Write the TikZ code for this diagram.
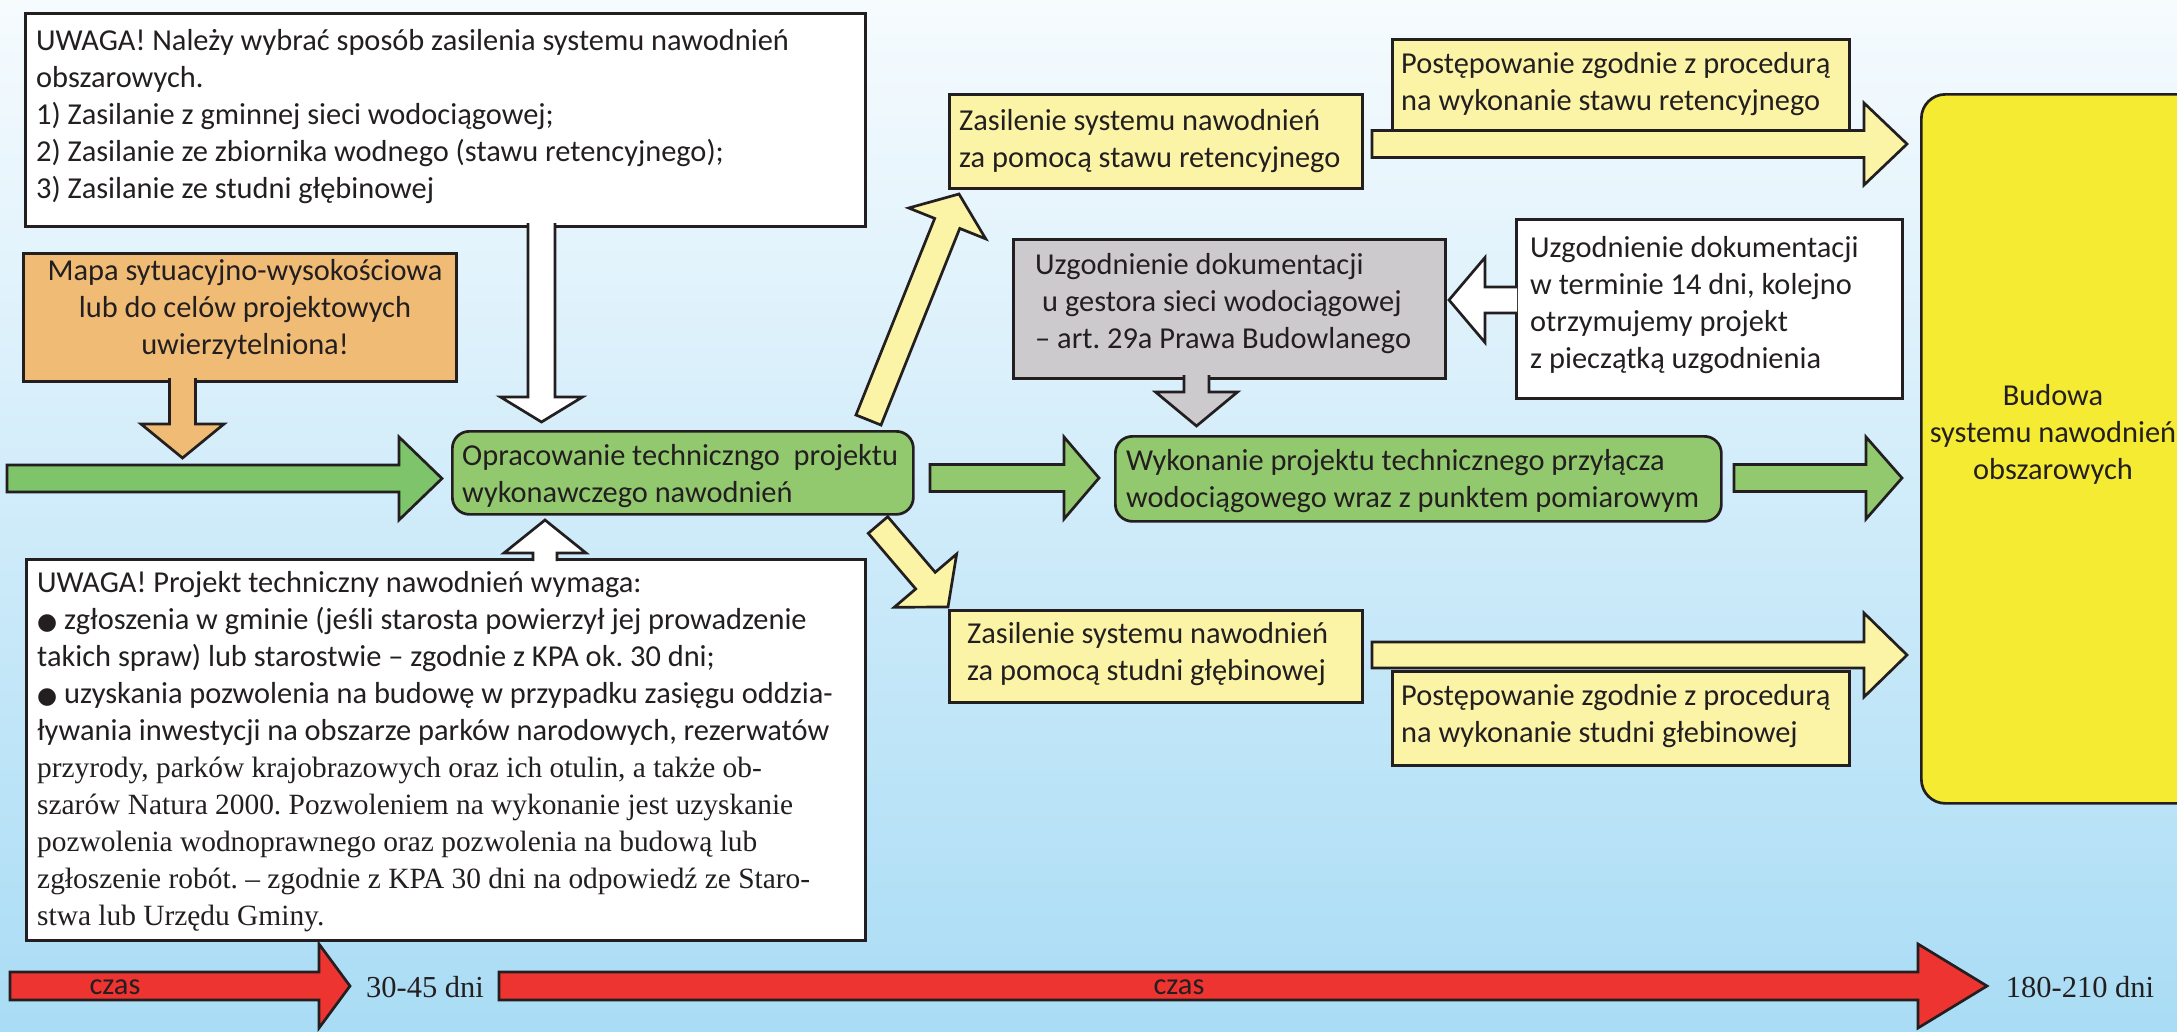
\documentclass[tikz,border=0pt]{standalone}
\usepackage{fontspec}
\setmainfont{Carlito}
\newfontfamily\seriff{Liberation Serif}
\newfontfamily\symf{DejaVu Sans}
\usetikzlibrary{calc}
\definecolor{ink}{HTML}{231F20}
\definecolor{bgtop}{HTML}{F6FBFE}
\definecolor{bgbot}{HTML}{A9DCF5}
\definecolor{orangef}{HTML}{F0BB74}
\definecolor{greenbox}{HTML}{93C96E}
\definecolor{greenarr}{HTML}{7EC46B}
\definecolor{paley}{HTML}{FBF4A6}
\definecolor{greyf}{HTML}{CDCACE}
\definecolor{bigy}{HTML}{F6EB33}
\definecolor{redf}{HTML}{EE3431}
\newcommand\fatpts[5]{%
  \coordinate (fa-c) at ($(#2)!#5!(#1)$);
  \coordinate (fa-1) at ($(#1)!#3!90:(#2)$);
  \coordinate (fa-2) at ($(fa-c)!#3!-90:(#1)$);
  \coordinate (fa-3) at ($(fa-c)!#4!-90:(#1)$);
  \coordinate (fa-4) at (#2);
  \coordinate (fa-5) at ($(fa-c)!#4!90:(#1)$);
  \coordinate (fa-6) at ($(fa-c)!#3!90:(#1)$);
  \coordinate (fa-7) at ($(#1)!#3!-90:(#2)$);
}
\newcommand\fatarrow[6]{%
  \fatpts{#2}{#3}{#4}{#5}{#6}
  \draw[edge, fill=#1] (fa-1)--(fa-2)--(fa-3)--(fa-4)--(fa-5)--(fa-6)--(fa-7)--cycle;
}
\newcommand\fatjoin[6]{%
  \fatpts{#2}{#3}{#4}{#5}{#6}
  \fill[#1] (fa-1)--(fa-2)--(fa-3)--(fa-4)--(fa-5)--(fa-6)--(fa-7)--cycle;
  \draw[edge] (fa-1)--(fa-2)--(fa-3)--(fa-4)--(fa-5)--(fa-6)--(fa-7);
}
\newcommand\serpar{\seriff\fontsize{29.4}{36.8}\selectfont}
\tikzset{
  edge/.style={draw=ink, line width=2.7pt, line join=miter},
  txt/.style={font=\frenchspacing\fontsize{30.4}{37}\selectfont, text=ink, inner sep=0pt},
  ltxt/.style={txt, anchor=west, align=left},
  sertxt/.style={font=\frenchspacing\seriff\fontsize{30.5}{37}\selectfont, text=ink, inner sep=0pt},
  box/.style={edge, anchor=north west, inner sep=0pt},
}
\newcommand\blt{{\symf\fontsize{23}{23}\selectfont ●}}
\begin{document}
\frenchspacing
\begin{tikzpicture}[x=1pt, y=-1pt]
\useasboundingbox (0,0) rectangle (2177,1031);
\clip (0,0) rectangle (2177,1031);
\shade[top color=bgtop, bottom color=bgbot] (0,0) rectangle (2177,1031);

% boxes
\node[box, fill=white, minimum width=840pt, minimum height=213pt] (top) at (24,12) {};
\node[box, fill=orangef, minimum width=433pt, minimum height=128pt] (map) at (22,252) {};
\node[box, fill=white, minimum width=839pt, minimum height=381pt] (bottom) at (25,558) {};
\node[box, fill=greenbox, rounded corners=17pt, minimum width=461pt, minimum height=83pt] (opr) at (451,430) {};
\node[box, fill=paley, minimum width=413pt, minimum height=94pt] (zas1) at (948,93) {};
\node[box, fill=paley, minimum width=457pt, minimum height=91pt] (post1) at (1391,38) {};
\node[box, fill=greyf, minimum width=432pt, minimum height=139pt] (uzg) at (1012,238) {};
\node[box, fill=white, minimum width=386pt, minimum height=179pt] (term) at (1515,218) {};
\node[box, fill=greenbox, rounded corners=17pt, minimum width=606pt, minimum height=85pt] (wyk) at (1114,435) {};
\node[box, fill=paley, minimum width=413pt, minimum height=92pt] (zas2) at (948,609) {};
\node[box, fill=paley, minimum width=457pt, minimum height=94pt] (post2) at (1391,670) {};
\node[box, fill=bigy, rounded corners=24pt, minimum width=290pt, minimum height=709pt] (bud) at (1920,93) {};

% texts
\node[ltxt] (top-t) at (36,117)
 {UWAGA! Należy wybrać sposób zasilenia systemu nawodnień\\
  obszarowych.\\
  1) Zasilanie z gminnej sieci wodociągowej;\\
  2) Zasilanie ze zbiornika wodnego (stawu retencyjnego);\\
  3) Zasilanie ze studni głębinowej};
\node[txt, align=center] (map-t) at (245,309)
 {Mapa sytuacyjno-wysokościowa\\ lub do celów projektowych\\ uwierzytelniona!};
\node[ltxt] (bottom-t) at (37,752)
 {UWAGA! Projekt techniczny nawodnień wymaga:\\
  \blt{} zgłoszenia w gminie (jeśli starosta powierzył jej prowadzenie\\
  takich spraw) lub starostwie – zgodnie z KPA ok. 30 dni;\\
  \blt{} uzyskania pozwolenia na budowę w przypadku zasięgu oddzia-\\
  ływania inwestycji na obszarze parków narodowych, rezerwatów\\
  \serpar przyrody, parków krajobrazowych oraz ich otulin, a także ob-\\
  \serpar szarów Natura 2000. Pozwoleniem na wykonanie jest uzyskanie\\
  \serpar pozwolenia wodnoprawnego oraz pozwolenia na budową lub\\
  \serpar zgłoszenie robót. – zgodnie z KPA 30 dni na odpowiedź ze Staro-\\
  \serpar stwa lub Urzędu Gminy.};
\node[ltxt] (opr-t) at (462,476)
 {Opracowanie techniczngo~ projektu\\ wykonawczego nawodnień};
\node[ltxt] (zas1-t) at (959,141)
 {Zasilenie systemu nawodnień\\ za pomocą stawu retencyjnego};
\node[ltxt] (post1-t) at (1401,84)
 {Postępowanie zgodnie z procedurą\\ na wykonanie stawu retencyjnego};
\node[ltxt] (uzg-t) at (1035,304)
 {Uzgodnienie dokumentacji\\ \hspace*{7pt}u gestora sieci wodociągowej\\ – art. 29a Prawa Budowlanego};
\node[ltxt] (term-t) at (1530,305)
 {Uzgodnienie dokumentacji\\ w terminie 14 dni, kolejno\\ otrzymujemy projekt\\ z pieczątką uzgodnienia};
\node[ltxt] (wyk-t) at (1126,481)
 {Wykonanie projektu technicznego przyłącza\\ wodociągowego wraz z punktem pomiarowym};
\node[ltxt] (zas2-t) at (967,654)
 {Zasilenie systemu nawodnień\\ za pomocą studni głębinowej};
\node[ltxt] (post2-t) at (1401,716)
 {Postępowanie zgodnie z procedurą\\ na wykonanie studni głebinowej};
\node[txt, align=center] (bud-t) at (2053,434) {Budowa\\ systemu nawodnień\\ obszarowych};

% arrow end points
\coordinate (gA0) at (7,478.5);      \coordinate (gA1) at (442,478.5);
\coordinate (oA0) at (182.5,378);    \coordinate (oA1) at (182.5,458);
\coordinate (wA0) at (541.5,223);    \coordinate (wA1) at (541.5,422);
\coordinate (uA0) at (545,561);      \coordinate (uA1) at (545,520);
\coordinate (dA0) at (868.5,420);    \coordinate (dA1) at (959,194);
\coordinate (eA0) at (878,525);      \coordinate (eA1) at (948,607);
\coordinate (yA0) at (1372,144);     \coordinate (yA1) at (1907,144);
\coordinate (zA0) at (1372,655);     \coordinate (zA1) at (1907,655);
\coordinate (sA0) at (1196.5,375);   \coordinate (sA1) at (1196.5,426);
\coordinate (lA0) at (1517,300);     \coordinate (lA1) at (1449,300);
\coordinate (mA0) at (930,478);      \coordinate (mA1) at (1099,478);
\coordinate (rA0) at (1734,478);     \coordinate (rA1) at (1902,478);
\coordinate (t1A0) at (10,986);      \coordinate (t1A1) at (350,986);
\coordinate (t2A0) at (499,986);     \coordinate (t2A1) at (1987,986);

\fatarrow{greenarr}{gA0}{gA1}{13.5pt}{41.5pt}{43pt}
\fatjoin{orangef}{oA0}{oA1}{13pt}{41.5pt}{34pt}
\fatjoin{white}{wA0}{wA1}{13.5pt}{41pt}{25pt}
\fatjoin{white}{uA0}{uA1}{12pt}{41pt}{33pt}
\fatarrow{paley}{dA0}{dA1}{13.5pt}{41.5pt}{31.7pt}
\fatarrow{paley}{eA0}{eA1}{12.8pt}{41pt}{34.7pt}
\fatarrow{paley}{yA0}{yA1}{13.5pt}{41pt}{43pt}
\fatarrow{paley}{zA0}{zA1}{13pt}{42pt}{43pt}
\fatjoin{greyf}{sA0}{sA1}{12.5pt}{41pt}{34pt}
\fatjoin{white}{lA0}{lA1}{13pt}{42.5pt}{36pt}
\fatarrow{greenbox}{mA0}{mA1}{13.5pt}{41pt}{35pt}
\fatarrow{greenbox}{rA0}{rA1}{13.5pt}{41pt}{36pt}
\fatarrow{redf}{t1A0}{t1A1}{14pt}{42pt}{31pt}
\fatarrow{redf}{t2A0}{t2A1}{14pt}{42pt}{69pt}

% time labels
\node[txt] (czas1) at (115,987) {czas};
\node[sertxt] (dni1) at (425,987) {30-45 dni};
\node[txt] (czas2) at (1179,987) {czas};
\node[sertxt] (dni2) at (2080,987) {180-210 dni};
\end{tikzpicture}
\end{document}
